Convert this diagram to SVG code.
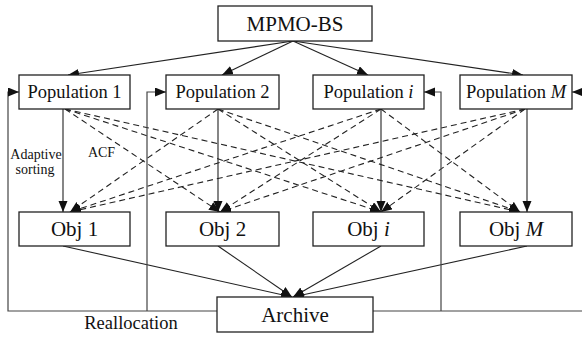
<svg xmlns="http://www.w3.org/2000/svg" width="582" height="337" viewBox="0 0 582 337">
<style>
.box{fill:#fff;stroke:#222;stroke-width:1.3}
.t{font-family:"Liberation Serif","Times New Roman",serif;fill:#111;text-anchor:middle}
.big{font-size:21px}
.pop{font-size:18.5px}
.sm{font-size:14px}
.ln{fill:none;stroke:#222;stroke-width:1.1}
.fb{fill:none;stroke:#444;stroke-width:1.2}
.ds{fill:none;stroke:#222;stroke-width:1.1;stroke-dasharray:6,4}
</style>
<defs>
<marker id="ah" markerUnits="userSpaceOnUse" markerWidth="12" markerHeight="10" refX="11" refY="4.5" orient="auto">
<path d="M0,0 L11,4.5 L0,9 Z" fill="#111"/>
</marker>
</defs>
<g id="connectors">
<line class="ln" x1="293" y1="41" x2="68" y2="75" marker-end="url(#ah)"/>
<line class="ln" x1="293" y1="41" x2="222" y2="75" marker-end="url(#ah)"/>
<line class="ln" x1="293" y1="41" x2="368" y2="75" marker-end="url(#ah)"/>
<line class="ln" x1="293" y1="41" x2="523" y2="75" marker-end="url(#ah)"/>
<line class="ln" x1="63" y1="109" x2="63" y2="212" marker-end="url(#ah)"/>
<line class="ln" x1="218" y1="109" x2="218" y2="212" marker-end="url(#ah)"/>
<line class="ln" x1="381" y1="109" x2="381" y2="212" marker-end="url(#ah)"/>
<line class="ln" x1="527" y1="109" x2="527" y2="212" marker-end="url(#ah)"/>
<line class="ds" x1="65" y1="109" x2="220" y2="212" marker-end="url(#ah)"/>
<line class="ds" x1="65" y1="109" x2="381" y2="212" marker-end="url(#ah)"/>
<line class="ds" x1="65" y1="109" x2="520" y2="212" marker-end="url(#ah)"/>
<line class="ds" x1="218" y1="109" x2="70" y2="212" marker-end="url(#ah)"/>
<line class="ds" x1="218" y1="109" x2="381" y2="212" marker-end="url(#ah)"/>
<line class="ds" x1="218" y1="109" x2="520" y2="212" marker-end="url(#ah)"/>
<line class="ds" x1="381" y1="109" x2="70" y2="212" marker-end="url(#ah)"/>
<line class="ds" x1="381" y1="109" x2="220" y2="212" marker-end="url(#ah)"/>
<line class="ds" x1="381" y1="109" x2="520" y2="212" marker-end="url(#ah)"/>
<line class="ds" x1="525" y1="109" x2="70" y2="212" marker-end="url(#ah)"/>
<line class="ds" x1="525" y1="109" x2="220" y2="212" marker-end="url(#ah)"/>
<line class="ds" x1="525" y1="109" x2="381" y2="212" marker-end="url(#ah)"/>
<line class="ln" x1="63" y1="246" x2="292" y2="297" marker-end="url(#ah)"/>
<line class="ln" x1="218" y1="246" x2="292" y2="297" marker-end="url(#ah)"/>
<line class="ln" x1="381" y1="246" x2="293" y2="297" marker-end="url(#ah)"/>
<line class="ln" x1="527" y1="246" x2="293" y2="297" marker-end="url(#ah)"/>
<polyline class="fb" points="217,311 8,311 8,92 19,92" marker-end="url(#ah)"/>
<polyline class="fb" points="147,311 147,92 166,92" marker-end="url(#ah)"/>
<polyline class="fb" points="373,311 584,311 584,92 572,92" marker-end="url(#ah)"/>
<polyline class="fb" points="441,311 441,92 424,92" marker-end="url(#ah)"/>
</g>
<g id="mpmo"><rect class="box" x="218" y="6" width="154" height="35"/><text class="t big" x="295" y="31">MPMO-BS</text></g>
<g id="pop1"><rect class="box" x="19" y="75" width="111" height="34"/><text class="t pop" x="74.5" y="98">Population 1</text></g>
<g id="pop2"><rect class="box" x="166" y="75" width="113" height="34"/><text class="t pop" x="222.5" y="98">Population 2</text></g>
<g id="popi"><rect class="box" x="313" y="75" width="111" height="34"/><text class="t pop" x="368.5" y="98">Population <tspan font-style="italic">i</tspan></text></g>
<g id="popM"><rect class="box" x="460" y="75" width="112" height="34"/><text class="t pop" x="516" y="98">Population <tspan font-style="italic">M</tspan></text></g>
<g id="obj1"><rect class="box" x="19" y="212" width="111" height="34"/><text class="t big" x="74.5" y="236">Obj 1</text></g>
<g id="obj2"><rect class="box" x="166" y="212" width="113" height="34"/><text class="t big" x="222.5" y="236">Obj 2</text></g>
<g id="obji"><rect class="box" x="313" y="212" width="111" height="34"/><text class="t big" x="368.5" y="236">Obj <tspan font-style="italic">i</tspan></text></g>
<g id="objM"><rect class="box" x="460" y="212" width="112" height="34"/><text class="t big" x="516" y="236">Obj <tspan font-style="italic">M</tspan></text></g>
<g id="archive"><rect class="box" x="217" y="297" width="156" height="35"/><text class="t big" x="295" y="322">Archive</text></g>
<g id="labels">
<text class="t sm" x="36" y="159">Adaptive</text>
<text class="t sm" x="35" y="174">sorting</text>
<text class="t sm" x="101.5" y="157">ACF</text>
<text class="t pop" x="131" y="329">Reallocation</text>
</g>
</svg>
